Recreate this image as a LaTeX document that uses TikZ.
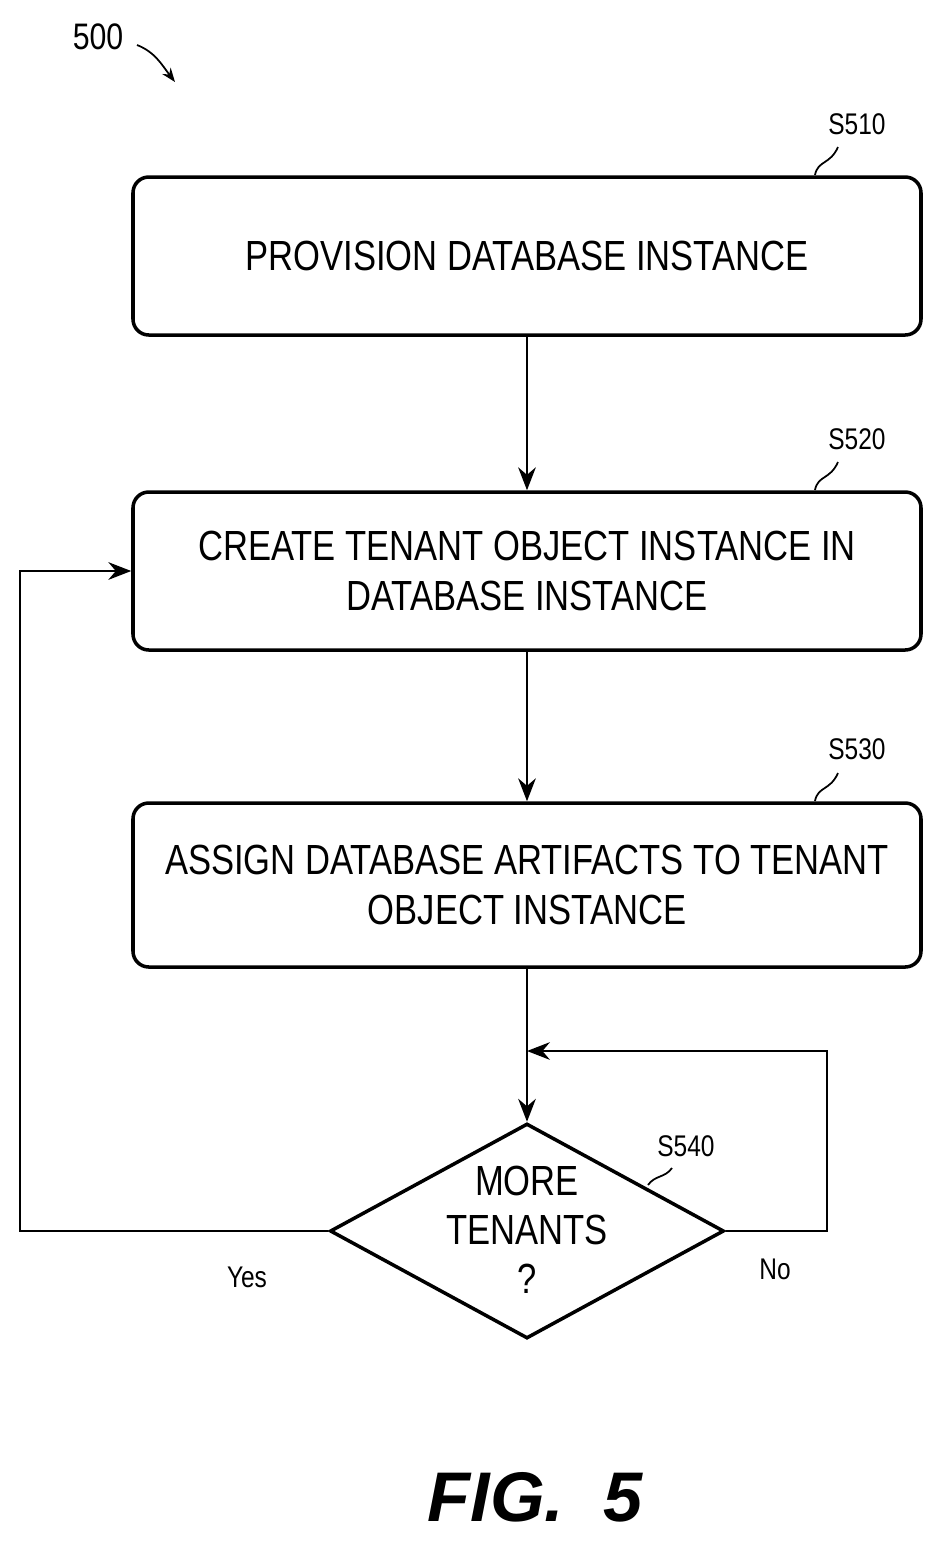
\documentclass[tikz,border=0pt]{standalone}
\usepackage{fontspec}
\setmainfont{Liberation Sans}[FakeStretch=0.82]
\newfontfamily\figfont{Liberation Sans}[FakeStretch=1.0]
\usetikzlibrary{shapes.geometric,arrows.meta}
\begin{document}
\begin{tikzpicture}[x=0.02cm,y=-0.02cm,
  box/.style={draw,line width=2pt,rounded corners=9pt,align=center,font=\fontsize{24}{28}\selectfont},
  lbl/.style={font=\fontsize{17}{20}\selectfont},
  arr/.style={line width=1.5pt,-{Stealth[length=13pt,width=10pt]}},
  ln/.style={line width=1.5pt}]
\useasboundingbox (0,0) rectangle (944,1543);
\node[box,minimum width=788*0.02cm,minimum height=158*0.02cm] (b1) at (527,256) {PROVISION DATABASE INSTANCE};
\node[box,minimum width=788*0.02cm,minimum height=158*0.02cm] (b2) at (527,571) {CREATE TENANT OBJECT INSTANCE IN\\DATABASE INSTANCE};
\node[box,minimum width=788*0.02cm,minimum height=164*0.02cm] (b3) at (527,885) {ASSIGN DATABASE ARTIFACTS TO TENANT\\OBJECT INSTANCE};
\node[draw,line width=2pt,diamond,minimum width=394*0.02cm,minimum height=215*0.02cm,inner sep=0pt] (d) at (527,1231) {};
\node[align=center,font=\fontsize{24}{28}\selectfont] (dt) at (527,1230) {MORE\\TENANTS\\?};
\draw[arr] (b1) -- (b2);
\draw[arr] (b2) -- (b3);
\draw[arr] (b3) -- (d);
\coordinate (lj) at (20,1231);
\coordinate (lt) at (20,571);
\draw[arr] (d.west) -- (lj) -- (lt) -- (b2.west);
\coordinate (rj) at (827,1231);
\coordinate (rt) at (827,1051);
\coordinate (mt) at (527,1051);
\draw[arr] (d.east) -- (rj) -- (rt) -- (mt);
\node[lbl] (s1) at (857,124) {S510};
\node[lbl] (s2) at (857,439) {S520};
\node[lbl] (s3) at (857,749) {S530};
\node[lbl] (s4) at (686,1146) {S540};
\draw[line width=1pt] (815,175) .. controls (818,160) and (830,165) .. (838,147);
\draw[line width=1pt] (815,490) .. controls (818,475) and (830,480) .. (838,462);
\draw[line width=1pt] (815,801) .. controls (818,786) and (830,791) .. (838,773);
\draw[line width=1pt] (648,1185) .. controls (655,1175) and (665,1178) .. (672,1168);
\node[lbl] (yes) at (247,1277) {Yes};
\node[lbl] (no) at (775,1269) {No};
\node[font=\fontsize{21}{24}\selectfont] (n500) at (98,37) {500};
\draw[line width=1pt,-{Stealth[length=8pt,width=6pt]}] (137,45) .. controls (155,52) and (162,65) .. (175,82);
\node[font=\figfont\bfseries\itshape\fontsize{40}{44}\selectfont] (fig) at (535,1497) {FIG.\ \ 5};
\end{tikzpicture}
\end{document}
